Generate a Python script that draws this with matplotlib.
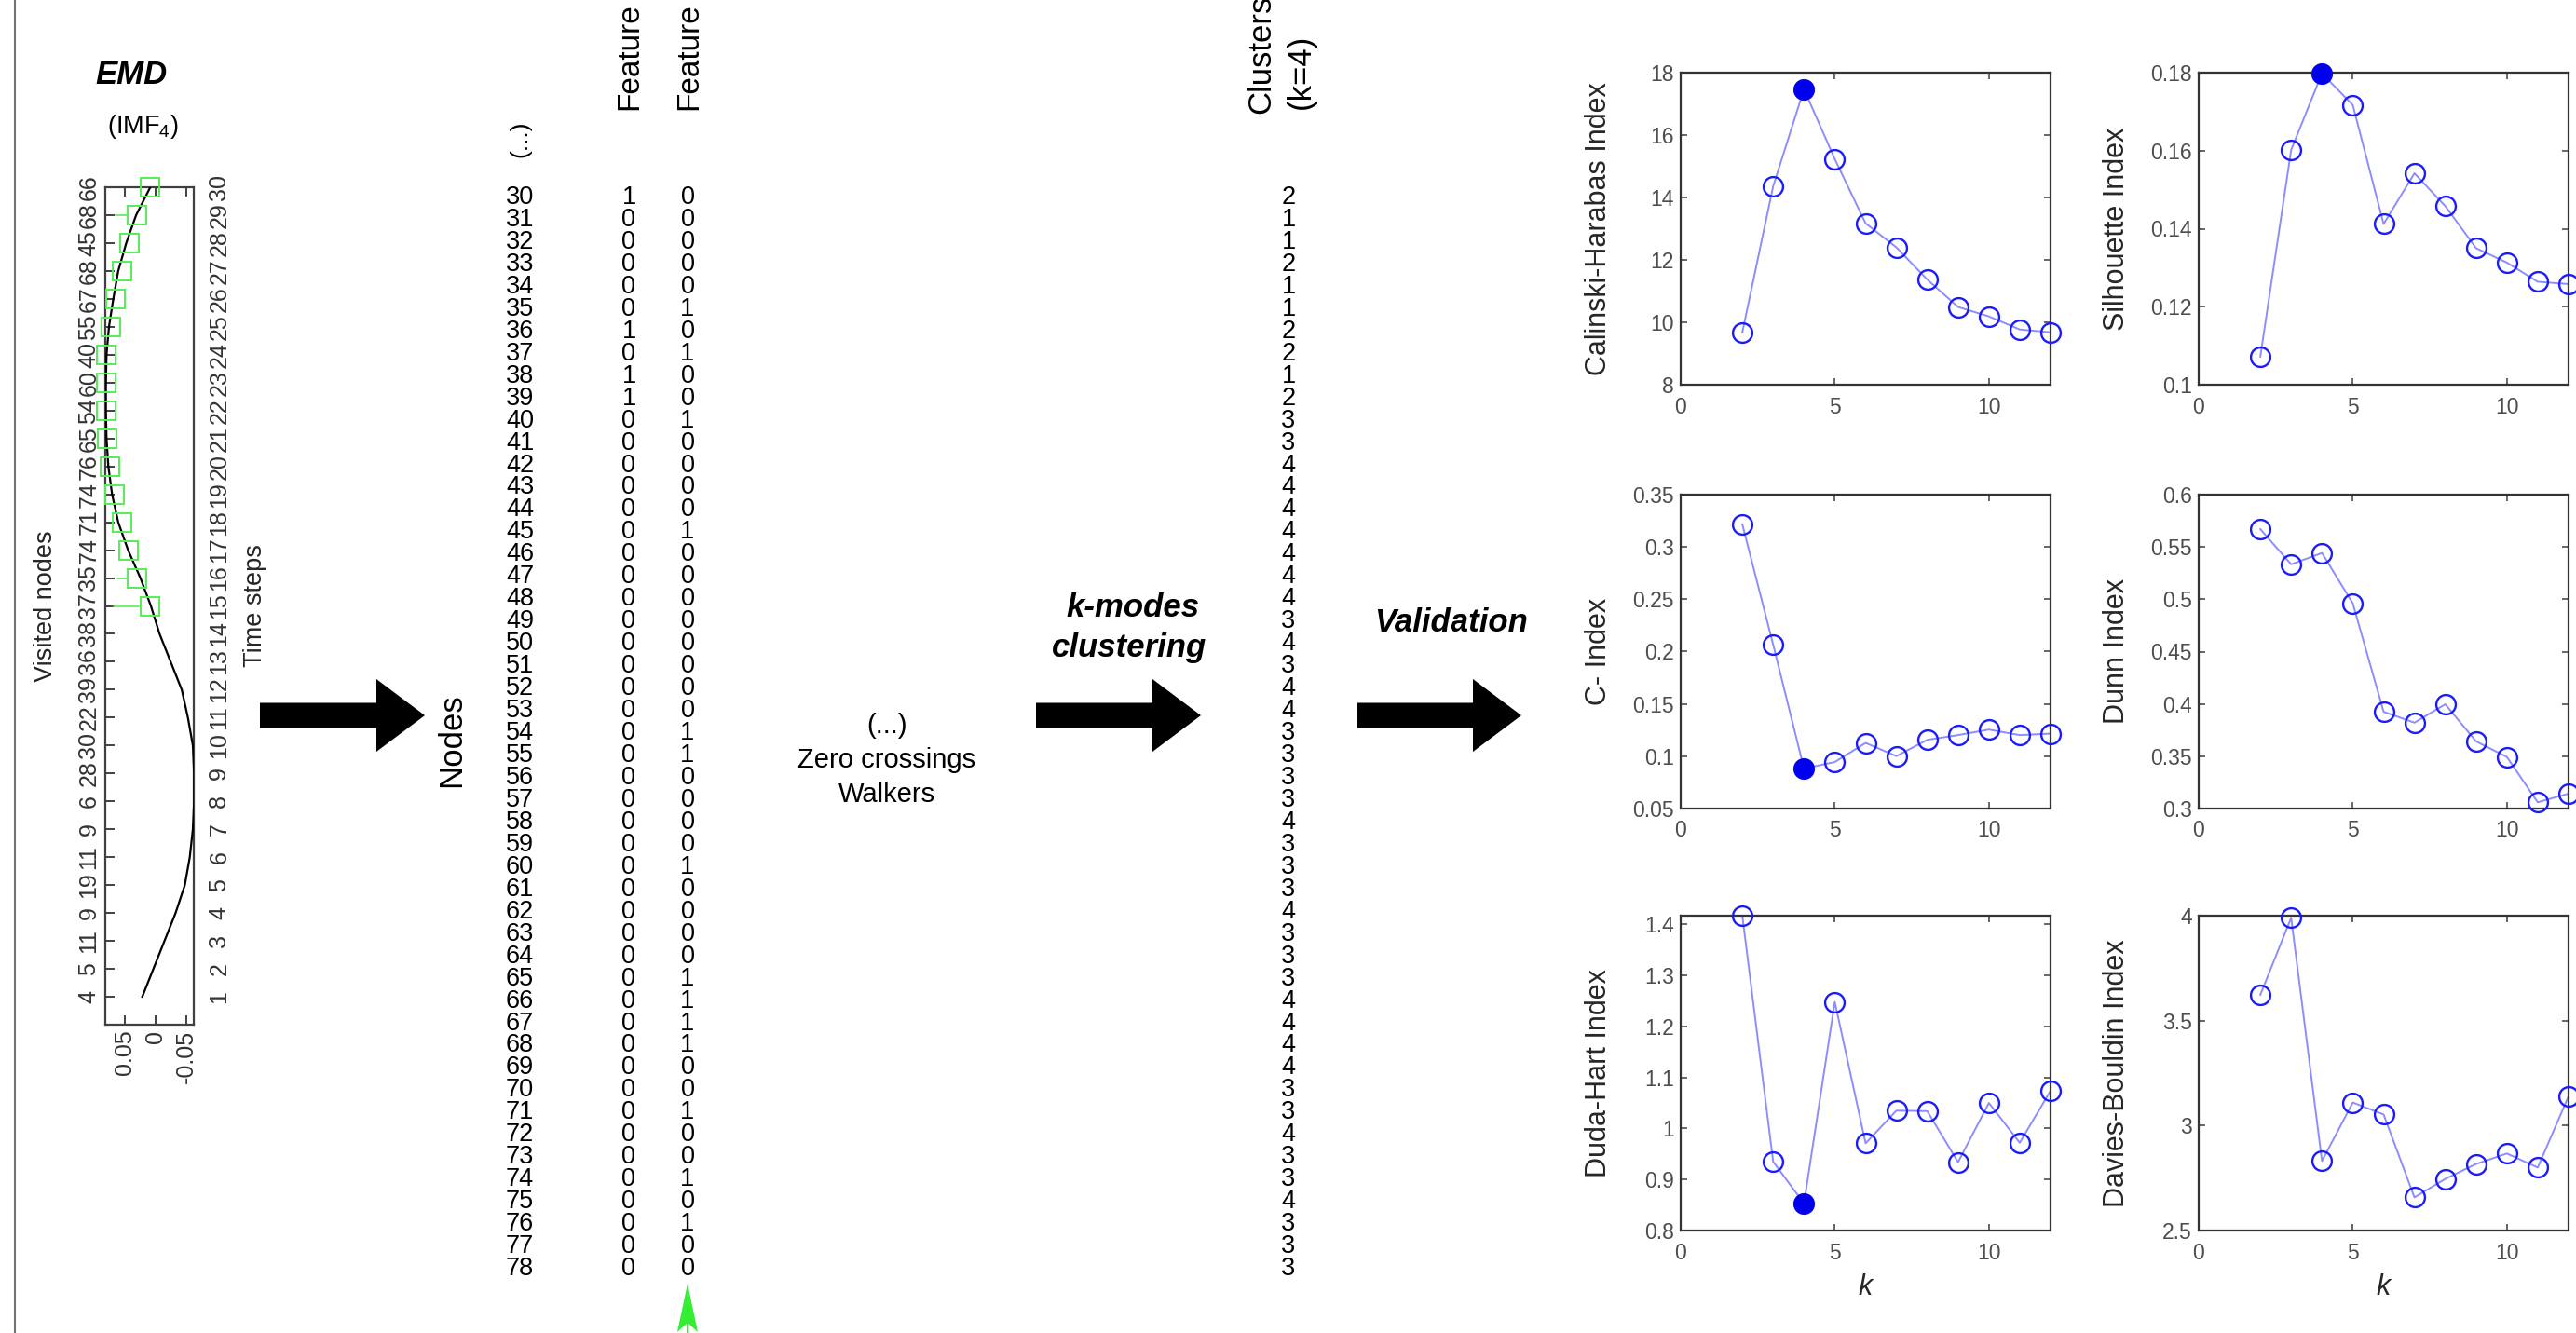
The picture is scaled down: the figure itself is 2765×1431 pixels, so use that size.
import numpy as np
import matplotlib
matplotlib.use('Agg')
import matplotlib.pyplot as plt
from matplotlib.patches import FancyArrow, Polygon
from matplotlib.ticker import FuncFormatter

plt.rcParams['font.family'] = ['Liberation Sans', 'DejaVu Sans']
plt.rcParams['mathtext.default'] = 'regular'

# ---------------- data ----------------
# EMD panel (IMF4 along the walk)
time_steps = list(range(1, 31))
visited_nodes = [4, 5, 11, 9, 19, 11, 9, 6, 28, 30, 22, 39, 36, 38, 37,
                 35, 74, 71, 74, 76, 65, 54, 60, 40, 55, 67, 68, 45, 68, 66]
imf4 = [0.021, 0.003, -0.015, -0.033, -0.048, -0.056, -0.061, -0.063, -0.063, -0.061,
        -0.053, -0.043, -0.025, -0.007, 0.007, 0.024, 0.044, 0.060, 0.070, 0.076,
        0.079, 0.080, 0.080, 0.079, 0.075, 0.068, 0.060, 0.047, 0.031, 0.008]
marked_steps = list(range(15, 31))
marked_vals = [0.009, 0.029, 0.043, 0.054, 0.066, 0.074, 0.078, 0.080,
               0.080, 0.080, 0.072, 0.065, 0.054, 0.042, 0.029, 0.009]
tail_steps = [15, 16, 29]
tail_from = [0.068, 0.062, 0.065]
tail_to = [0.026, 0.046, 0.046]

# feature table
nodes = list(range(30, 79))
feature1 = [1, 0, 0, 0, 0, 0, 1, 0, 1, 1] + [0] * 39
feature2 = [0, 0, 0, 0, 0, 1, 0, 1, 0, 0, 1, 0, 0, 0, 0, 1, 0, 0, 0, 0, 0, 0, 0, 0, 1,
            1, 0, 0, 0, 0, 1, 0, 0, 0, 0, 1, 1, 1, 1, 0, 0, 1, 0, 0, 1, 0, 1, 0, 0]
clusters = [2, 1, 1, 2, 1, 1, 2, 2, 1, 2, 3, 3, 4, 4, 4, 4, 4, 4, 4, 3, 4, 3, 4, 4, 3,
            3, 3, 3, 4, 3, 3, 3, 4, 3, 3, 3, 4, 4, 4, 4, 3, 3, 4, 3, 3, 4, 3, 3, 3]

# validation indices
k_vals = list(range(2, 13))
calinski = [9.68, 14.36, 17.47, 15.23, 13.17, 12.40, 11.37, 10.49, 10.19, 9.77, 9.68]
silhouette = [0.1072, 0.1602, 0.1798, 0.1717, 0.1412, 0.1542, 0.1458, 0.1350, 0.1313, 0.1264, 0.1258]
c_index = [0.3216, 0.2067, 0.0882, 0.0945, 0.1127, 0.1001, 0.1157, 0.1202, 0.1255, 0.1202, 0.1216]
dunn = [0.567, 0.5334, 0.5442, 0.4961, 0.3925, 0.3821, 0.3997, 0.3642, 0.3493, 0.3060, 0.3143]
duda_hart = [1.417, 0.935, 0.853, 1.248, 0.971, 1.035, 1.034, 0.934, 1.050, 0.972, 1.074]
davies = [3.623, 3.990, 2.831, 3.110, 3.053, 2.658, 2.746, 2.817, 2.867, 2.800, 3.140]

# ---------------- figure ----------------
W, H = 2765, 1431
fig = plt.figure(figsize=(W / 100, H / 100), dpi=100)


def box(x0, y0, x1, y1):
    # pixel box (top-left origin) -> figure fraction rect
    return [x0 / W, 1 - y1 / H, (x1 - x0) / W, (y1 - y0) / H]


# background axes in pixel units for texts and arrows
bg = fig.add_axes([0, 0, 1, 1], zorder=-5)
bg.set_xlim(0, W)
bg.set_ylim(H, 0)
bg.axis('off')

bg.plot([16, 16], [0, H], color='0.45', lw=1.5)

# big arrows
for x0, x1 in [(279, 456), (1112, 1289), (1457, 1633)]:
    bg.add_patch(FancyArrow(x0, 768, x1 - x0, 0, width=27, head_width=78,
                            head_length=52, length_includes_head=True,
                            color='black', lw=0))

# green arrow under feature 2
bg.add_patch(Polygon([(738, 1378), (727, 1430), (738, 1420), (749, 1430)],
                     closed=True, color='#33ee33', lw=0))
bg.plot([738, 738], [1420, 1431], color='#33ee33', lw=1.5)

bi = dict(fontweight='bold', fontstyle='italic', ha='center', va='center')
bg.text(141, 80, 'EMD', fontsize=25, **bi)
bg.text(153, 136, '(IMF$_4$)', fontsize=19.5, ha='center', va='center')
bg.text(1216, 653, 'k-modes', fontsize=25, **bi)
bg.text(1212, 695, 'clustering', fontsize=25, **bi)
bg.text(1558, 668, 'Validation', fontsize=25, **bi)

for txt, y in [('(...)', 779), ('Zero crossings', 816), ('Walkers', 853)]:
    bg.text(952, y, txt, fontsize=21, ha='center', va='center')

bg.text(485, 795, 'Nodes', fontsize=25, rotation=90, ha='center', va='center')
bg.text(558, 149, '(...)', fontsize=19, rotation=90, ha='center', va='center')
bg.text(676, 118, 'Feature', fontsize=24, rotation=90, ha='center', va='bottom')
bg.text(740, 118, 'Feature', fontsize=24, rotation=90, ha='center', va='bottom')
bg.text(1354, 122, 'Clusters', fontsize=25, rotation=90, ha='center', va='bottom')
bg.text(1396, 117, '(k=4)', fontsize=25, rotation=90, ha='center', va='bottom')

# table axes: y in node numbers
row_top, row_dy = 212, 23.96
tab = fig.add_axes(box(0, row_top - row_dy / 2, W, row_top + 48.5 * row_dy), zorder=-4)
tab.set_xlim(0, W)
tab.set_ylim(nodes[-1] + 0.5, nodes[0] - 0.5)
tab.axis('off')
for n, f1, f2, c in zip(nodes, feature1, feature2, clusters):
    tab.text(558, n, str(n), fontsize=19.5, ha='center', va='center')
    tab.text(675, n, str(f1), fontsize=19.5, ha='center', va='center')
    tab.text(738, n, str(f2), fontsize=19.5, ha='center', va='center')
    tab.text(1383, n, str(c), fontsize=19.5, ha='center', va='center')

# ---------------- EMD axes ----------------
ax = fig.add_axes(box(113, 201, 208, 1100))
ax.plot(imf4, time_steps, color='black', lw=1.6, zorder=3)
ax.plot(marked_vals, marked_steps, 's', ms=15, mfc='none', mec='#55ee55',
        mew=1.4, clip_on=False, zorder=4)
for t, a, b in zip(tail_steps, tail_from, tail_to):
    ax.plot([a, b], [t, t], color='#55ee55', lw=1.2, zorder=4)
ax.set_xlim(0.081, -0.0625)
ax.set_ylim(0, 30)
ax.set_xticks([0.05, 0, -0.05])
ax.set_xticklabels(['0.05', '0', '-0.05'], rotation=90, va='top')
ax.set_yticks(time_steps)
ax.set_yticklabels([str(v) for v in visited_nodes], rotation=90, va='center')
ax.tick_params(direction='in', length=7, width=1.3, labelsize=18, colors='0.2',
               top=True, pad=4)
ax.tick_params(axis='y', right=True)
for s in ax.spines.values():
    s.set_color('0.25')
    s.set_linewidth(1.6)
ax.set_ylabel('Visited nodes', fontsize=19.5, color='0.15')
ax.yaxis.set_label_coords(-0.54, 0.5)

ax2 = ax.twinx()
ax2.set_ylim(0, 30)
ax2.set_yticks(time_steps)
ax2.set_yticklabels([str(t) for t in time_steps], rotation=90, va='center')
ax2.tick_params(direction='in', length=0, labelsize=18, colors='0.2', pad=11)
for s in ax2.spines.values():
    s.set_visible(False)
ax2.set_ylabel('Time steps', fontsize=19.5, color='0.15', rotation=90)
ax2.yaxis.set_label_coords(1.56, 0.5)

# ---------------- validation axes ----------------
cols = [(1804, 2201), (2360, 2757)]
rows = [(78, 413), (531, 868), (983, 1321)]
panels = [
    ('Calinski-Harabas Index', calinski, (8, 18), np.arange(8, 18.1, 2), 4),
    ('Silhouette Index', silhouette, (0.1, 0.18), np.arange(0.1, 0.1801, 0.02), 4),
    ('C- Index', c_index, (0.05, 0.35), np.arange(0.05, 0.3501, 0.05), 4),
    ('Dunn Index', dunn, (0.3, 0.6), np.arange(0.3, 0.6001, 0.05), None),
    ('Duda-Hart Index', duda_hart, (0.8, max(duda_hart)), np.arange(0.8, 1.4001, 0.1), 4),
    ('Davies-Bouldin Index', davies, (2.5, 4), np.arange(2.5, 4.001, 0.5), None),
]
fmt = FuncFormatter(lambda v, p: '%g' % round(v, 4))
for i, (name, vals, ylim, yt, best) in enumerate(panels):
    r, c = divmod(i, 2)
    a = fig.add_axes(box(cols[c][0], rows[r][0], cols[c][1], rows[r][1]))
    a.plot(k_vals, vals, '-', color='#8c8cff', lw=1.4, zorder=2)
    a.plot(k_vals, vals, 'o', ms=15, mfc='none', mec='#1a1aff', mew=1.7,
           clip_on=False, zorder=3)
    if best is not None:
        a.plot([best], [vals[k_vals.index(best)]], 'o', ms=15, color='#0000ee',
               clip_on=False, zorder=4)
    a.set_xlim(0, 12)
    a.set_ylim(*ylim)
    a.set_xticks([0, 5, 10])
    a.set_yticks(yt)
    a.yaxis.set_major_formatter(fmt)
    a.tick_params(direction='in', length=5, width=1.2, labelsize=16.5, colors='0.3',
                  top=True, right=True, pad=5)
    a.tick_params(axis='x', pad=9)
    for s in a.spines.values():
        s.set_color('0.2')
        s.set_linewidth(1.6)
    a.set_ylabel(name, fontsize=22, color='0.15')
    a.yaxis.set_label_coords(-0.185, 0.5)
    if r == 2:
        a.set_xlabel('k', fontsize=22, fontstyle='italic', color='0.15')
        a.xaxis.set_label_coords(0.5, -0.135)

fig.savefig('out.png', dpi=100)
